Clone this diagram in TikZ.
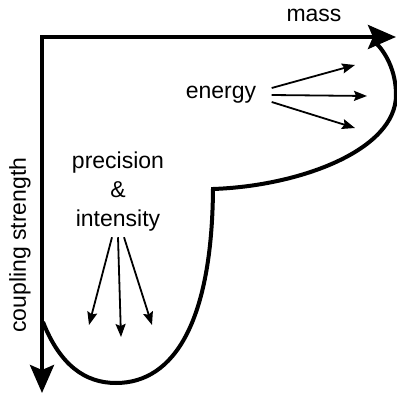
\documentclass[tikz,border=0pt]{standalone}
\usepackage{fontspec}
\setmainfont{Liberation Sans}
\usetikzlibrary{arrows.meta}
\begin{document}
\begin{tikzpicture}[x=1pt, y=-1pt, font=\fontsize{23}{29}\selectfont, line join=miter,
  >={Stealth[length=13pt,width=10pt,inset=2pt]},
  axis/.style={line width=4pt, {Stealth[length=28pt,width=24pt,inset=5pt]}-{Stealth[length=28pt,width=24pt,inset=5pt]}},
  hint/.style={line width=1.8pt, ->}]
\useasboundingbox (0,0) rectangle (397,394);
\coordinate (O) at (42,37);
\coordinate (M) at (396,37);
\coordinate (C) at (42,393);
% axes
\draw[axis] (M) -- (O) -- (C);
\node (mass) at (314,15) {mass};
\node[rotate=90] (coupling) at (20,245) {coupling strength};
% region
\draw[line width=4pt] (43,322) .. controls (60,365) and (85,383) .. (116,383)
  .. controls (175,383) and (212,320) .. (213,189)
  .. controls (300,186) and (396,150) .. (396,95)
  .. controls (396,70) and (385,52) .. (376,43);
% labels
\node (energy) at (221,95) {energy};
\node[align=center] (prec) at (118,192) {precision\\\&\\intensity};
\foreach \dy/\p in {7/{355,65}, 0/{367,96}, -7/{355,128}}
  \draw[hint] ([xshift=12pt,yshift=\dy pt]energy.east) -- (\p);
\foreach \dx/\p in {-6/{89,325}, 0/{121,337}, 6/{152,325}}
  \draw[hint] ([xshift=\dx pt,yshift=-2pt]prec.south) -- (\p);
\end{tikzpicture}
\end{document}
